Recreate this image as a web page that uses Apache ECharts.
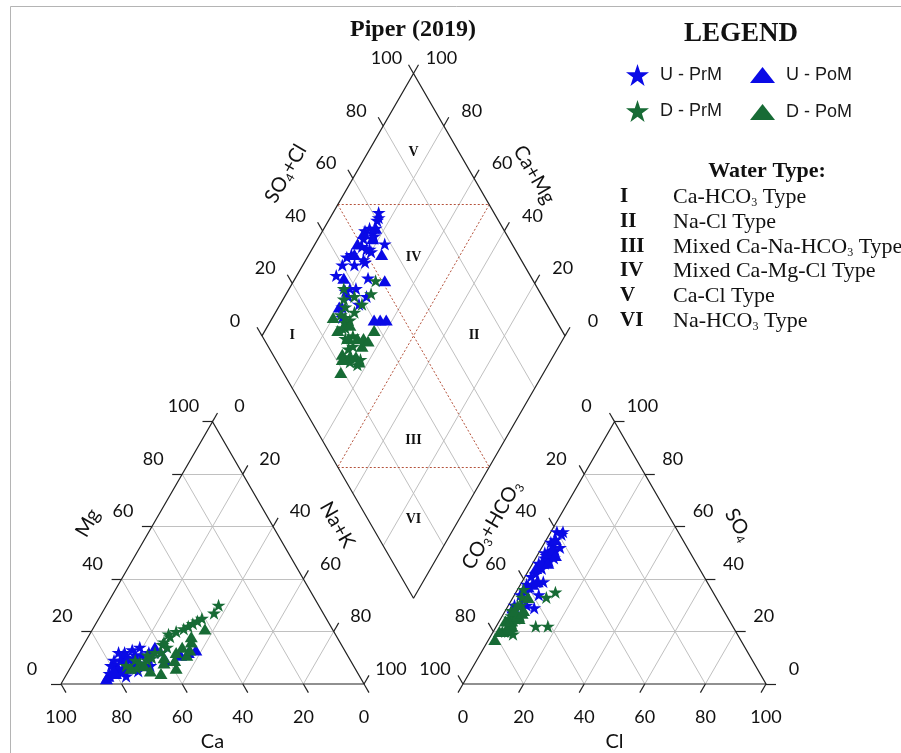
<!DOCTYPE html>
<html>
<head>
<meta charset="utf-8">
<title>Piper (2019)</title>
<script src="https://cdn.jsdelivr.net/npm/echarts@6.0.0/dist/echarts.min.js"></script>
<style>
html,body{margin:0;padding:0;background:#ffffff;}
#chart{width:901px;height:753px;}
</style>
</head>
<body>
<div id="chart"></div>
<script>
// ===== Data: ionic percentages (meq %) =====
// Na+K = 100 - Ca - Mg ;  CO3+HCO3 = 100 - SO4 - Cl
const uPrmCa  = [75,74,73,76,71,70,79,79,82,70,70,66,67,61,78,73,68,67,72,77,74,65,78,76,74,72,80,75,71,77];
const uPrmMg  = [8,10,12,6,9,11,7,5,4,13,8,10,7,12,9,6,11,14,5,3,9,12,6,9,11,8,7,12,10,5];
const uPrmSO4 = [55,58,58,51,49,46,48,46,42,39,38,39,35,34,34,30,30,47,27,29,54,52,57,53,50,44,41,37,32,48];
const uPrmCl  = [3,2,4,5,3,2,6,4,3,5,2,7,3,8,2,2,6,5,3,9,2,6,4,3,2,4,2,3,4,3];

const uPomCa  = [83,80,77,84,74,52,49,55,61,62,73,80];
const uPomMg  = [3,4,5,2,6,12,13,11,9,14,10,5];
const uPomSO4 = [50,36,51,46,29,38,39,37,46,49,55,44];
const uPomCl  = [3,2,4,3,2,4,5,3,5,6,3,2];

const dPrmCa  = [75,71,70,65,63,59,55,52,49,47,45,43,41,36,33,58,61,58,55,72,67,66];
const dPrmMg  = [7,9,8,10,12,15,19,20,21,22,23,24,25,27,30,14,12,16,18,6,9,11];
const dPrmSO4 = [33,30,30,25,24,26,26,22,26,20,25,20,20,19,23,33,35,22,22,28,28,36];
const dPrmCl  = [3,4,3,5,4,6,3,5,4,6,3,5,4,7,5,11,13,13,17,2,3,2];

const dPomCa  = [74,61,59,49,42,62,58,56,53,68,48,69,53,65,51];
const dPomMg  = [6,10,6,16,21,8,9,12,14,5,18,7,11,4,13];
const dPomSO4 = [24,24,22,25,23,20,17,26,21,28,27,24,28,20,33];
const dPomCl  = [3,4,5,6,4,3,2,5,4,3,6,2,6,2,5];

const seriesNames = ['U - PrM', 'U - PoM', 'D - PrM', 'D - PoM'];
const tickValues = [0, 20, 40, 60, 80, 100];
const gridValues = [20, 40, 60, 80];
const regionCodes = ['I', 'II', 'III', 'IV', 'V', 'VI'];
// region label anchor in diamond coordinates [Ca+Mg, SO4+Cl]
const regionCaMg  = [90, 30, 30, 65, 85, 15];
const regionSO4Cl = [10, 70, 30, 65, 85, 15];
const waterTypeNames = [
  ['Ca-HCO', '3', ' Type'],
  ['Na-Cl Type'],
  ['Mixed Ca-Na-HCO', '3', ' Type'],
  ['Mixed Ca-Mg-Cl Type'],
  ['Ca-Cl Type'],
  ['Na-HCO', '3', ' Type']
];

// ===== Geometry (units: percent of a triangle side) =====
const H = Math.sqrt(3) / 2;
const PX = 3.03;                 // pixels per unit
const GAP = 99 / PX;             // gap between the two triangles
const AX0 = 100 + GAP;           // anion triangle origin
const DB = [100 + GAP / 2, (GAP / 2) * Math.sqrt(3)]; // diamond bottom vertex
const catXY = (ca, mg) => { const na = 100 - ca - mg; return [na + mg / 2, mg * H]; };
const anXY  = (so4, cl) => [AX0 + cl + so4 / 2, so4 * H];
const diaXY = (cm, sc) => [DB[0] + (sc - cm) / 2, DB[1] + (sc + cm) * H];
const TL = 10 / PX;
const tick = (p, d) => ({ coords: [p, [p[0] + d[0] * TL, p[1] + d[1] * TL]] });

function samplePoints(ca, mg, so4, cl) {
  const c = ca.map((v, i) => catXY(v, mg[i]));
  const a = so4.map((v, i) => anXY(v, cl[i]));
  const d = ca.map((v, i) => diaXY(v + mg[i], so4[i] + cl[i]));
  return c.concat(a, d);
}

// grid lines
const gridLines = [];
gridValues.forEach(k => {
  gridLines.push({ coords: [catXY(100 - k, k), catXY(0, k)] });
  gridLines.push({ coords: [catXY(k, 100 - k), catXY(k, 0)] });
  gridLines.push({ coords: [catXY(100 - k, 0), catXY(0, 100 - k)] });
  gridLines.push({ coords: [anXY(k, 0), anXY(k, 100 - k)] });
  gridLines.push({ coords: [anXY(0, k), anXY(100 - k, k)] });
  gridLines.push({ coords: [anXY(100 - k, 0), anXY(0, 100 - k)] });
  gridLines.push({ coords: [diaXY(k, 0), diaXY(k, 100)] });
  gridLines.push({ coords: [diaXY(0, k), diaXY(100, k)] });
});

// outlines
const outlines = [
  { coords: [catXY(100, 0), catXY(0, 0), catXY(0, 100), catXY(100, 0)] },
  { coords: [anXY(0, 0), anXY(0, 100), anXY(100, 0), anXY(0, 0)] },
  { coords: [diaXY(0, 0), diaXY(100, 0), diaXY(100, 100), diaXY(0, 100), diaXY(0, 0)] }
];

// classification boundaries
const dashed = [
  { coords: [diaXY(100, 50), diaXY(50, 100)] },
  { coords: [diaXY(50, 0), diaXY(0, 50)] },
  { coords: [diaXY(100, 50), diaXY(0, 50)] },
  { coords: [diaXY(50, 100), diaXY(50, 0)] }
];

// ---- texts drawn through the cartesian coordinate system ----
const TICK_FONT = '18px Lato';
const TITLE_RICH = {
  n: { fontFamily: 'Lato', fontSize: 20, lineHeight: 24, fill: '#111' },
  s: { fontFamily: 'Lato', fontSize: 12, lineHeight: 12, verticalAlign: 'bottom', fill: '#111' }
};
const texts = [];
const addText = (text, pos, off, extra) => texts.push(Object.assign({ text: text, pos: pos, off: off, rot: 0, font: TICK_FONT }, extra || {}));

// ticks and tick labels
const ticks = [];
tickValues.forEach(k => {
  let p;
  p = catXY(100 - k, k); ticks.push(tick(p, [-1, 0]));     addText(String(k), p, [-29, -15]);
  p = catXY(k, 0);       ticks.push(tick(p, [0.5, -H]));   addText(String(k), p, [0, 33]);
  p = catXY(0, 100 - k); ticks.push(tick(p, [0.5, H]));    addText(String(k), p, [27, -15]);
  p = anXY(k, 100 - k);  ticks.push(tick(p, [1, 0]));      addText(String(k), p, [28, -15]);
  p = anXY(0, k);        ticks.push(tick(p, [-0.5, -H]));  addText(String(k), p, [0, 33]);
  p = anXY(100 - k, 0);  ticks.push(tick(p, [-0.5, H]));   addText(String(k), p, [-28, -15]);
  p = diaXY(100, k);     ticks.push(tick(p, [-0.5, H]));   addText(String(k), p, [-27, -15]);
  p = diaXY(k, 100);     ticks.push(tick(p, [0.5, H]));    addText(String(k), p, [28, -15]);
});

// axis titles
addText('{n|Ca}', catXY(50, 0), [0, 58], { rich: TITLE_RICH });
addText('{n|Mg}', catXY(50, 50), [-49, -30], { rot: 60, rich: TITLE_RICH });
addText('{n|Na+K}', catXY(0, 50), [49, -28], { rot: -60, rich: TITLE_RICH });
addText('{n|Cl}', anXY(0, 50), [0, 58], { rich: TITLE_RICH });
addText('{n|CO}{s|3}{n|+HCO}{s|3}', anXY(50, 0), [-47, -28], { rot: 60, rich: TITLE_RICH });
addText('{n|SO}{s|4}', anXY(50, 50), [48, -28], { rot: -60, rich: TITLE_RICH });
addText('{n|SO}{s|4}{n|+Cl}', diaXY(100, 50), [-52, -31], { rot: 60, rich: TITLE_RICH });
addText('{n|Ca+Mg}', diaXY(50, 100), [45, -30], { rot: -60, rich: TITLE_RICH });

// region labels
regionCodes.forEach((r, i) => addText(r, diaXY(regionCaMg[i], regionSO4Cl[i]), [0, 0], { font: 'bold 14px "Liberation Serif"' }));

const STAR = 'path://M50,0L61.23,34.55L97.55,34.55L68.17,55.9L79.39,90.45L50,69.1L20.61,90.45L31.83,55.9L2.45,34.55L38.77,34.55Z';
const BLUE = '#0a0ae6';
const GREEN = '#176b35';

const xMin = -61 / PX, xMax = xMin + 901 / PX;
const yMin = -69 / PX, yMax = yMin + 753 / PX;

const legendCommon = {
  padding: 0, itemGap: 0, selectedMode: false,
  textStyle: { fontFamily: 'Liberation Sans', fontSize: 18, color: '#1a1a1a', padding: [0, 0, 0, 6] }
};

const graphics = [
  { type: 'rect', silent: true, z: -10, shape: { x: 10.5, y: 6.5, width: 1000, height: 1000 }, style: { fill: 'none', stroke: '#b4b4b4', lineWidth: 1 } },
  { type: 'text', x: 413, y: 30, style: { text: 'Piper (2019)', font: 'bold 24px "Liberation Serif"', fill: '#111', textAlign: 'center', textVerticalAlign: 'middle' } },
  { type: 'text', x: 741, y: 34, style: { text: 'LEGEND', font: 'bold 27px "Liberation Serif"', fill: '#111', textAlign: 'center', textVerticalAlign: 'middle' } },
  { type: 'text', x: 767, y: 171, style: { text: 'Water Type:', font: 'bold 22px "Liberation Serif"', fill: '#111', textAlign: 'center', textVerticalAlign: 'middle' } }
];
const rowY = [197, 222, 247, 271, 296, 321];
regionCodes.forEach((r, i) => {
  graphics.push({ type: 'text', x: 620, y: rowY[i], style: { text: r, font: 'bold 21px "Liberation Serif"', fill: '#111', textVerticalAlign: 'middle' } });
  const parts = waterTypeNames[i];
  const txt = parts.map((s, j) => (j === 1 ? '{s|' + s + '}' : '{n|' + s + '}')).join('');
  graphics.push({
    type: 'text', x: 673, y: rowY[i],
    style: {
      text: txt, textVerticalAlign: 'middle', fill: '#111',
      rich: {
        n: { fontFamily: 'Liberation Serif', fontSize: 22, lineHeight: 24, fill: '#111' },
        s: { fontFamily: 'Liberation Serif', fontSize: 12, lineHeight: 12, verticalAlign: 'bottom', fill: '#111' }
      }
    }
  });
});

const markerSeries = [
  { name: seriesNames[0], symbol: STAR, size: [14, 13], color: BLUE, pts: samplePoints(uPrmCa, uPrmMg, uPrmSO4, uPrmCl) },
  { name: seriesNames[1], symbol: 'triangle', size: [13, 11], color: BLUE, pts: samplePoints(uPomCa, uPomMg, uPomSO4, uPomCl) },
  { name: seriesNames[2], symbol: STAR, size: [14, 13], color: GREEN, pts: samplePoints(dPrmCa, dPrmMg, dPrmSO4, dPrmCl) },
  { name: seriesNames[3], symbol: 'triangle', size: [13, 11], color: GREEN, pts: samplePoints(dPomCa, dPomMg, dPomSO4, dPomCl) }
].map(s => ({
  type: 'scatter', name: s.name, symbol: s.symbol, symbolSize: s.size, z: 4,
  itemStyle: { color: s.color, opacity: 1 }, data: s.pts, silent: true
}));

const option = {
  animation: false,
  backgroundColor: '#ffffff',
  grid: { left: 0, right: 0, top: 0, bottom: 0 },
  xAxis: { type: 'value', min: xMin, max: xMax, show: false },
  yAxis: { type: 'value', min: yMin, max: yMax, show: false },
  legend: [
    Object.assign({ data: [{ name: seriesNames[0], icon: STAR }], left: 626, top: 64, itemWidth: 23, itemHeight: 22 }, legendCommon),
    Object.assign({ data: [{ name: seriesNames[1], icon: 'triangle' }], left: 750, top: 66, itemWidth: 25, itemHeight: 16 }, legendCommon),
    Object.assign({ data: [{ name: seriesNames[2], icon: STAR }], left: 626, top: 100, itemWidth: 23, itemHeight: 22 }, legendCommon),
    Object.assign({ data: [{ name: seriesNames[3], icon: 'triangle' }], left: 750, top: 103, itemWidth: 25, itemHeight: 16 }, legendCommon)
  ],
  graphic: graphics,
  series: [
    { type: 'lines', coordinateSystem: 'cartesian2d', silent: true, z: 1, lineStyle: { color: '#c0c0c0', width: 1, opacity: 1 }, data: gridLines },
    { type: 'lines', coordinateSystem: 'cartesian2d', silent: true, z: 2, lineStyle: { color: '#b5523b', width: 1, type: [2, 2], opacity: 1 }, data: dashed },
    { type: 'lines', coordinateSystem: 'cartesian2d', polyline: true, silent: true, z: 2, lineStyle: { color: '#222', width: 1.2, opacity: 1 }, data: outlines },
    { type: 'lines', coordinateSystem: 'cartesian2d', silent: true, z: 2, lineStyle: { color: '#222', width: 1.2, opacity: 1 }, data: ticks },
    ...markerSeries,
    {
      type: 'custom', coordinateSystem: 'cartesian2d', silent: true, z: 6,
      data: texts.map((t, i) => [t.pos[0], t.pos[1], i]),
      renderItem: function (params, api) {
        const t = texts[api.value(2)];
        const c = api.coord([api.value(0), api.value(1)]);
        const style = { text: t.text, font: t.font, fill: '#111', textAlign: 'center', textVerticalAlign: 'middle' };
        if (t.rich) style.rich = t.rich;
        return { type: 'text', x: c[0] + t.off[0], y: c[1] + t.off[1], rotation: t.rot * Math.PI / 180, style: style };
      }
    }
  ]
};

const chart = echarts.init(document.getElementById('chart'), null, { renderer: 'canvas' });
chart.setOption(option);
</script>
</body>
</html>
